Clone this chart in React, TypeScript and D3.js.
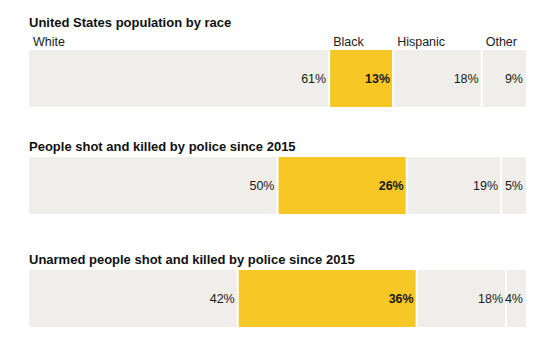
import React, { useEffect, useRef } from "react"
import * as d3 from "d3"

const races = ["White", "Black", "Hispanic", "Other"]
const titles = [
  "United States population by race",
  "People shot and killed by police since 2015",
  "Unarmed people shot and killed by police since 2015",
]
const population = [61, 13, 18, 9]
const shotByPolice = [50, 26, 19, 5]
const unarmedShot = [42, 36, 18, 4]

const GRAY = "#efeeea"
const YELLOW = "#f6c725"
const FONT = "'Liberation Sans', Arial, sans-serif"

export default function App() {
  const svgRef = useRef<SVGSVGElement>(null)

  useEffect(() => {
    const svg = d3.select(svgRef.current)
    svg.selectAll("*").remove()

    const WIDTH = 552
    const LEFT = 29
    const RIGHT = 526
    const BAR_H = 57
    // top of each bar
    const barTops = [50, 157, 270]
    const rows = [population, shotByPolice, unarmedShot]

    rows.forEach((values, r) => {
      const total = d3.sum(values)
      const x = d3.scaleLinear().domain([0, total]).range([LEFT, RIGHT])
      const ends = Array.from(d3.cumsum(values))
      const starts = ends.map((e, i) => e - values[i])
      const top = barTops[r]

      const g = svg.append("g")

      // title
      g.append("text")
        .attr("x", LEFT)
        .attr("y", r === 0 ? 27 : top - 6)
        .attr("font-family", FONT)
        .attr("font-weight", "bold")
        .attr("font-size", 13)
        .attr("fill", "#111")
        .text(titles[r])

      // race labels only on the first bar
      if (r === 0) {
        g.selectAll(".raceLabel")
          .data(races)
          .enter().append("text")
            .attr("class", "raceLabel")
            .attr("x", (d, i) => x(starts[i]) + 4)
            .attr("y", 46)
            .attr("font-family", FONT)
            .attr("font-size", 12.5)
            .attr("fill", "#222")
            .text(d => d)
      }

      g.selectAll(".seg")
        .data(values)
        .enter().append("rect")
          .attr("class", "seg")
          .attr("x", (d, i) => x(starts[i]) + (i > 0 ? 1 : 0))
          .attr("y", top)
          .attr("width", (d, i) => x(ends[i]) - x(starts[i]) - (i > 0 ? 1 : 0) - (i < values.length - 1 ? 1 : 0))
          .attr("height", BAR_H)
          .attr("fill", (d, i) => (i === 1 ? YELLOW : GRAY))

      g.selectAll(".val")
        .data(values)
        .enter().append("text")
          .attr("class", "val")
          .attr("x", (d, i) => x(ends[i]) - 3)
          .attr("y", top + BAR_H / 2)
          .attr("dy", "0.36em")
          .attr("text-anchor", "end")
          .attr("font-family", FONT)
          .attr("font-size", 12.5)
          .attr("font-weight", (d, i) => (i === 1 ? "bold" : "normal"))
          .attr("fill", "#1a1a1a")
          .text(d => d + "%")
    })

    svg.attr("width", WIDTH)
  }, [])

  return (
    <svg
      ref={svgRef}
      width={552}
      height={360}
      style={{ position: "absolute", left: 0, top: 0, background: "#fff" }}
    ></svg>
  )
}
